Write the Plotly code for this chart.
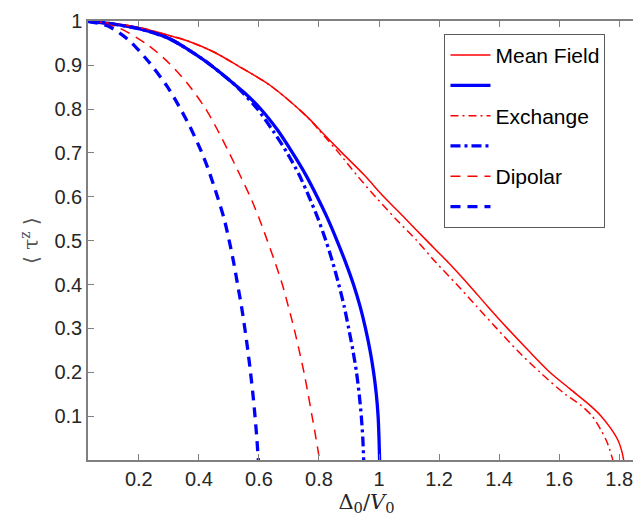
import plotly.graph_objects as go

# Mean Field (red solid)
mf_x = [0.03, 0.1, 0.2, 0.3, 0.363, 0.45, 0.529, 0.639, 0.761, 0.806, 0.877, 0.95, 1.016, 1.088,
        1.159, 1.231, 1.298, 1.362, 1.428, 1.497, 1.569, 1.636, 1.702, 1.74, 1.772, 1.796, 1.808, 1.815]
mf_y = [1.0, 0.996, 0.986, 0.968, 0.955, 0.93, 0.899, 0.853, 0.782, 0.75, 0.70, 0.65, 0.60, 0.55,
        0.50, 0.45, 0.40, 0.35, 0.30, 0.25, 0.20, 0.162, 0.125, 0.10, 0.072, 0.045, 0.022, 0.0]

# Mean Field (blue solid, no label)
mfb_x = [0.03, 0.1, 0.2, 0.3, 0.363, 0.42, 0.473, 0.529, 0.55, 0.606, 0.662, 0.712, 0.756, 0.794,
         0.829, 0.860, 0.889, 0.915, 0.937, 0.955, 0.970, 0.982, 0.991, 0.997, 1.0, 1.002]
mfb_y = [1.0, 0.995, 0.983, 0.961, 0.936, 0.91, 0.882, 0.85, 0.838, 0.80, 0.752, 0.70, 0.65, 0.60,
         0.55, 0.50, 0.45, 0.40, 0.35, 0.30, 0.25, 0.20, 0.15, 0.10, 0.05, 0.0]

# Exchange (red dash-dot)
ex_x = [0.03, 0.1, 0.2, 0.3, 0.363, 0.45, 0.529, 0.639, 0.761, 0.80, 0.866, 0.925, 0.988, 1.055,
        1.126, 1.19, 1.259, 1.325, 1.392, 1.46, 1.536, 1.62, 1.672, 1.71, 1.738, 1.76, 1.779]
ex_y = [1.0, 0.996, 0.986, 0.968, 0.955, 0.93, 0.899, 0.853, 0.782, 0.752, 0.70, 0.65, 0.60, 0.55,
        0.50, 0.45, 0.40, 0.35, 0.30, 0.25, 0.20, 0.15, 0.125, 0.10, 0.07, 0.04, 0.0]

# Exchange (blue dash-dot, no label)
exb_x = [0.03, 0.1, 0.2, 0.3, 0.363, 0.42, 0.473, 0.52, 0.545, 0.595, 0.647, 0.694, 0.734, 0.767,
         0.797, 0.823, 0.846, 0.866, 0.884, 0.899, 0.913, 0.925, 0.934, 0.941, 0.946, 0.949]
exb_y = [1.0, 0.995, 0.983, 0.961, 0.936, 0.91, 0.882, 0.855, 0.838, 0.80, 0.75, 0.70, 0.65, 0.60,
         0.55, 0.50, 0.45, 0.40, 0.35, 0.30, 0.25, 0.20, 0.15, 0.10, 0.05, 0.0]

# Dipolar (red dashed)
dp_x = [0.03, 0.13, 0.23, 0.30, 0.36, 0.42, 0.46, 0.501, 0.54, 0.573, 0.60, 0.628, 0.654, 0.678,
        0.698, 0.717, 0.734, 0.75, 0.764, 0.777, 0.79, 0.802]
dp_y = [1.0, 0.986, 0.946, 0.905, 0.86, 0.803, 0.755, 0.70, 0.645, 0.597, 0.552, 0.50, 0.45, 0.40,
        0.35, 0.30, 0.25, 0.20, 0.15, 0.10, 0.05, 0.0]

# Dipolar (blue dashed, no label)
dpb_x = [0.03, 0.097, 0.163, 0.23, 0.296, 0.335, 0.37, 0.407, 0.43, 0.462, 0.484, 0.501, 0.516,
         0.529, 0.542, 0.553, 0.563, 0.572, 0.58, 0.587, 0.593, 0.598]
dpb_y = [1.0, 0.989, 0.959, 0.91, 0.85, 0.805, 0.76, 0.705, 0.665, 0.60, 0.55, 0.50, 0.45,
         0.40, 0.35, 0.30, 0.25, 0.20, 0.15, 0.10, 0.05, 0.0]

x_ticks = [0.2, 0.4, 0.6, 0.8, 1.0, 1.2, 1.4, 1.6, 1.8]
x_ticklabels = ["0.2", "0.4", "0.6", "0.8", "1", "1.2", "1.4", "1.6", "1.8"]
y_ticks = [0.1, 0.2, 0.3, 0.4, 0.5, 0.6, 0.7, 0.8, 0.9, 1.0]
y_ticklabels = ["0.1", "0.2", "0.3", "0.4", "0.5", "0.6", "0.7", "0.8", "0.9", "1"]

RED = "#ff0000"
BLUE = "#0000ff"

series = [
    (mf_x, mf_y, "Mean Field", RED, 1.5, "solid"),
    (mfb_x, mfb_y, "", BLUE, 3.3, "solid"),
    (ex_x, ex_y, "Exchange", RED, 1.5, "8px,4px,2px,4px"),
    (exb_x, exb_y, "", BLUE, 3.3, "10px,4px,3px,4px"),
    (dp_x, dp_y, "Dipolar", RED, 1.5, "10px,7px"),
    (dpb_x, dpb_y, "", BLUE, 3.3, "10px,7px"),
]

fig = go.Figure()
for xs, ys, name, color, width, dash in series:
    fig.add_trace(go.Scatter(
        x=xs, y=ys, mode="lines", name=name,
        line=dict(color=color, width=width, dash=dash, shape="spline", smoothing=0.8),
    ))

axis_color = "#808080"
font_family = "Liberation Sans, Arial, sans-serif"

fig.update_layout(
    width=641, height=517,
    margin=dict(l=80, r=2, t=10, b=65),
    paper_bgcolor="white", plot_bgcolor="white",
    font=dict(family=font_family, size=20, color="#262626"),
    showlegend=True,
    legend=dict(
        x=0.640, y=0.9706, xanchor="left", yanchor="top",
        bgcolor="white", bordercolor="#5a5a5a", borderwidth=1,
        font=dict(family=font_family, size=21, color="#000000"),
        itemwidth=40, tracegroupgap=0,
    ),
)
fig.update_xaxes(
    range=[0.0307, 1.886], tickmode="array", tickvals=x_ticks, ticktext=x_ticklabels,
    ticks="inside", ticklen=6, tickcolor=axis_color, tickwidth=1,
    showline=True, linecolor=axis_color, linewidth=1.5, mirror="ticks",
    showgrid=False, zeroline=False, ticklabeloverflow="allow",
    tickfont=dict(size=20, color="#262626"),
    title=dict(text="Δ<sub>0</sub>/<i>V</i><sub>0</sub>",
               font=dict(family="DejaVu Serif, serif", size=21, color="#262626"), standoff=2),
)
fig.update_yaxes(
    range=[0, 1.0006], tickmode="array", tickvals=y_ticks, ticktext=y_ticklabels,
    ticks="inside", ticklen=6, tickcolor=axis_color, tickwidth=1,
    showline=True, linecolor=axis_color, linewidth=1.5, mirror="ticks",
    showgrid=False, zeroline=False, ticklabeloverflow="allow",
    tickfont=dict(size=20, color="#262626"),
    title=dict(text="⟨ τ<sup>z</sup> ⟩",
               font=dict(family="DejaVu Serif, serif", size=20, color="#555555"), standoff=10),
)

fig.write_html("out.html")
